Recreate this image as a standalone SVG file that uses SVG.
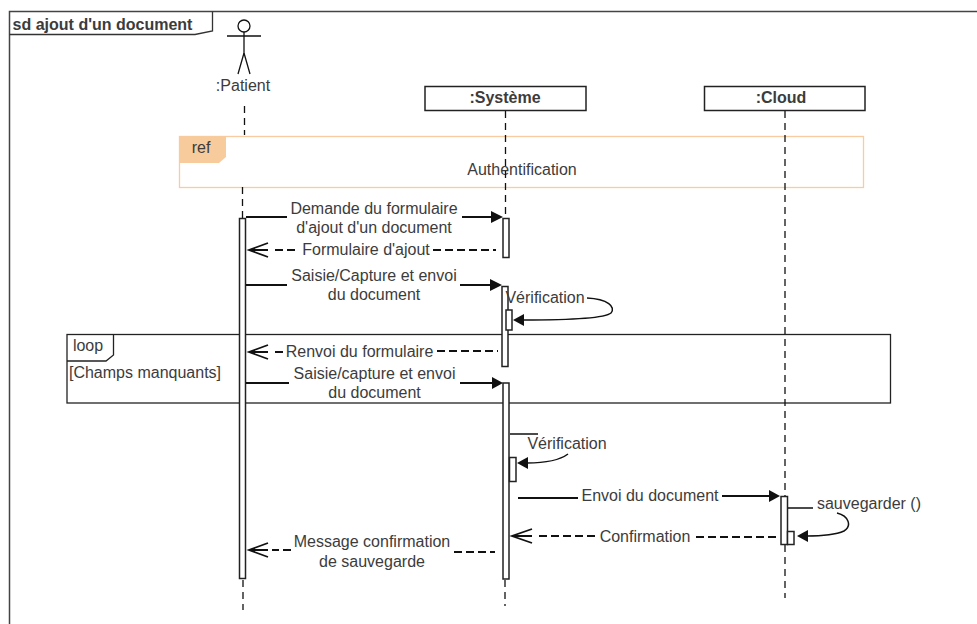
<svg xmlns="http://www.w3.org/2000/svg" width="977" height="624" viewBox="0 0 977 624">
<style>
text{font-family:"Liberation Sans",Arial,sans-serif;font-size:16px;fill:#3c3c3c;text-anchor:middle}
.t{font-weight:bold}
.l{fill:none;stroke:#111;stroke-width:1.5}
.s{fill:none;stroke:#111;stroke-width:2}
.d{fill:none;stroke:#111;stroke-width:2;stroke-dasharray:8 4}
.ll{fill:none;stroke:#111;stroke-width:1.3;stroke-dasharray:7 5}
.b{fill:#fff;stroke:#222;stroke-width:1.5}
.o{fill:none;stroke:#111;stroke-width:1.8}
.h{fill:#111}
</style>
<rect width="977" height="624" fill="#fff"/>
<g id="frame">
<path d="M9.500 624V11.500H977" fill="none" stroke="#444" stroke-width="1.500"/>
<path d="M9.500 34.500H195L212.500 31V11.500" fill="none" stroke="#333" stroke-width="1.300"/>
<text class="t" x="102.500" y="30">sd ajout d'un document</text>
</g>
<g id="ref">
<rect x="179.500" y="136.500" width="684" height="51" fill="#fff" stroke="#f8cca0" stroke-width="1.300"/>
<path d="M179 136H226V157L219 163H179Z" fill="#f8cb9c"/>
<text x="201" y="153">ref</text>
<text x="522" y="175">Authentification</text>
</g>
<g id="loop">
<rect x="67" y="334.500" width="823.500" height="68.500" fill="none" stroke="#222" stroke-width="1.300"/>
<path d="M67 361H106L113.500 355V334.500" fill="none" stroke="#222" stroke-width="1.300"/>
<text x="88" y="351">loop</text>
<text x="145" y="378">[Champs manquants]</text>
</g>
<g id="lifelines">
<path class="ll" d="M244.500 106V135M242.500 187V218M243 580V610"/>
<path class="ll" d="M505.500 111V218M505 580V606"/>
<path class="ll" d="M785 111V496M785 545V598"/>
</g>
<g id="patient">
<circle cx="244" cy="26" r="6" fill="#fff" stroke="#111" stroke-width="1.300"/>
<path d="M244 32V53M227 36H261M244 53L238 74M244 53L250 74" fill="none" stroke="#111" stroke-width="1.300"/>
<text x="243" y="91">:Patient</text>
</g>
<g id="systeme">
<rect class="b" x="425" y="86.500" width="161" height="24"/>
<text class="t" x="505" y="103">:Système</text>
</g>
<g id="cloud">
<rect class="b" x="704.500" y="86.500" width="160.500" height="24"/>
<text class="t" x="781" y="103">:Cloud</text>
</g>
<g id="activations">
<rect class="b" x="239.500" y="218.500" width="6" height="360"/>
<rect class="b" x="503" y="218.500" width="6" height="39"/>
<rect class="b" x="502" y="286.500" width="6" height="80"/>
<rect class="b" x="506" y="310" width="6" height="20"/>
<rect class="b" x="503" y="383" width="6" height="196"/>
<rect class="b" x="509.500" y="457.500" width="6.500" height="24"/>
<rect class="b" x="781" y="496.500" width="6.500" height="48"/>
<rect class="b" x="787.500" y="531.500" width="6.500" height="13"/>
</g>
<g id="connectors">
<path class="s" d="M246 217H287M462 217H492"/><path class="h" d="M491 211L503 217L491 223Z"/>
<path class="d" d="M433 250H496M295 250H272"/><path class="o" d="M268 250H250M268 243L249 250L268 257"/>
<path class="s" d="M246 285H287M460 285H491"/><path class="h" d="M490 279L502 285L490 291Z"/>
<path class="l" d="M587 298C608 299 616 307 611 313C604 319 560 320 523 320"/><path class="h" d="M524 314L513 320L524 326Z"/>
<path class="d" d="M437 351H498M283 352H272"/><path class="o" d="M268 352H250M268 345L249 352L268 359"/>
<path class="s" d="M246 383H289M460 383H492"/><path class="h" d="M492 377L503 383L492 389Z"/>
<path class="l" d="M510 434H538M568 454C560 460 545 463 527 463"/><path class="h" d="M528 457L517 463L528 469Z"/>
<path class="s" d="M518 498H578M722 496H770"/><path class="h" d="M769 490L780 496L769 502Z"/>
<path class="l" d="M788 508H813M837 513C849 516 852 526 844 531C835 535 820 536 806 536"/><path class="h" d="M808 530L797 536L808 542Z"/>
<path class="d" d="M696 537H780M595 536H536"/><path class="o" d="M532 536H513M532 529L512 536L532 543"/>
<path class="d" d="M454 552H495M291 550H272"/><path class="o" d="M268 550H250M268 543L249 550L268 557"/>
</g>
<g id="labels">
<text x="374" y="214">Demande du formulaire</text>
<text x="374" y="233">d'ajout d'un document</text>
<text x="366" y="255">Formulaire d'ajout</text>
<text x="374" y="281">Saisie/Capture et envoi</text>
<text x="374" y="300">du document</text>
<text x="545" y="303">Vérification</text>
<text x="359.500" y="357">Renvoi du formulaire</text>
<text x="374.500" y="379">Saisie/capture et envoi</text>
<text x="374.500" y="398">du document</text>
<text x="567" y="449">Vérification</text>
<text x="650" y="501">Envoi du document</text>
<text x="869" y="509">sauvegarder ()</text>
<text x="645" y="542">Confirmation</text>
<text x="372" y="547">Message confirmation</text>
<text x="372" y="567">de sauvegarde</text>
</g>
</svg>
